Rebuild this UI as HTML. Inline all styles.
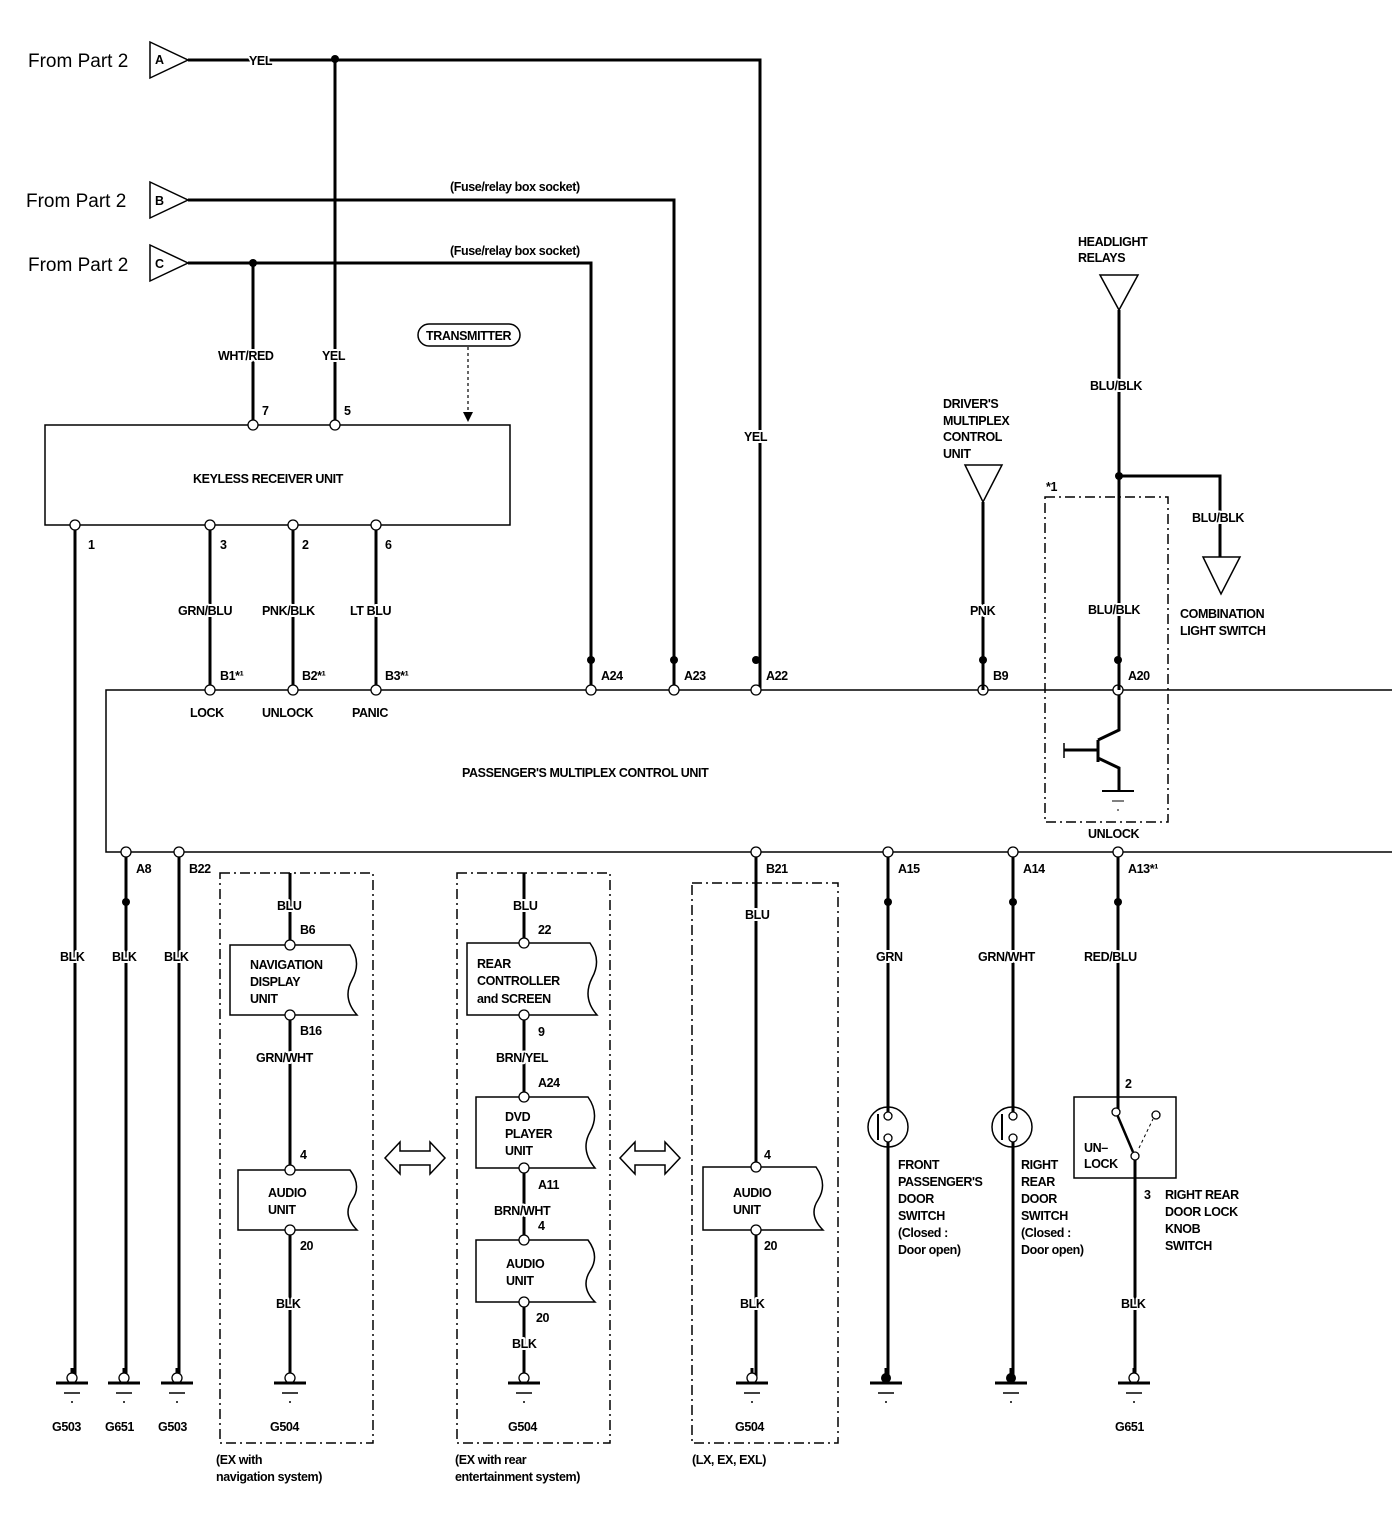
<!DOCTYPE html>
<html><head><meta charset="utf-8"><style>
html,body{margin:0;padding:0;background:#fff}
svg{display:block}
text{font-family:"Liberation Sans Narrow","Liberation Sans",sans-serif;font-weight:bold;font-size:12.5px;letter-spacing:-0.4px;fill:#000;stroke:#fff;stroke-width:4px;paint-order:stroke;stroke-linejoin:round}
.big{font-family:"Liberation Sans",sans-serif;font-weight:normal;font-size:19px;letter-spacing:0}
.w{stroke:#000;stroke-width:3;fill:none}
.t{stroke:#000;stroke-width:1.5;fill:none}
.d{stroke:#000;stroke-width:1.5;fill:none;stroke-dasharray:10 4 2 4}
.p{fill:#fff;stroke:#000;stroke-width:1.3}
</style></head><body>
<svg width="1392" height="1530" viewBox="0 0 1392 1530" xmlns="http://www.w3.org/2000/svg">
<defs>
<g id="gnd"><line class="w" x1="0" y1="-10" x2="0" y2="0"/><circle class="p" cx="0" cy="0" r="5"/><line x1="-16" y1="5" x2="16" y2="5" stroke="#000" stroke-width="3"/><line x1="-8" y1="15" x2="8" y2="15" stroke="#000" stroke-width="1.5"/><line x1="-1" y1="24" x2="1" y2="24" stroke="#000" stroke-width="1.5"/></g>
<g id="gndf"><line class="w" x1="0" y1="-10" x2="0" y2="0"/><circle cx="0" cy="0" r="5" fill="#000"/><line x1="-16" y1="5" x2="16" y2="5" stroke="#000" stroke-width="3"/><line x1="-8" y1="15" x2="8" y2="15" stroke="#000" stroke-width="1.5"/><line x1="-1" y1="24" x2="1" y2="24" stroke="#000" stroke-width="1.5"/></g>
</defs>

<!-- From Part 2 -->
<text class="big" x="28" y="67">From Part 2</text>
<text class="big" x="26" y="207">From Part 2</text>
<text class="big" x="28" y="271">From Part 2</text>
<polygon class="t" points="150,42 150,78 188,60"/><text x="155" y="64" font-size="9">A</text>
<polygon class="t" points="150,182 150,218 188,200"/><text x="155" y="205" font-size="9">B</text>
<polygon class="t" points="150,245 150,281 188,263"/><text x="155" y="268" font-size="9">C</text>

<!-- wires top -->
<path class="w" d="M188,60 H760 V690"/>
<path class="w" d="M188,200 H674 V690"/>
<path class="w" d="M188,263 H591 V690"/>
<path class="w" d="M335,60 V425"/>
<path class="w" d="M253,263 V425"/>
<circle cx="335" cy="59" r="4"/><circle cx="253" cy="263" r="4"/>
<text x="249" y="65">YEL</text>
<text x="450" y="191" font-size="11">(Fuse/relay box socket)</text>
<text x="450" y="255" font-size="11">(Fuse/relay box socket)</text>
<text x="218" y="360">WHT/RED</text><text x="322" y="360">YEL</text>
<text x="744" y="441">YEL</text>
<text x="262" y="415">7</text><text x="344" y="415">5</text>
<rect x="418" y="324" width="102" height="22" rx="11" class="t"/>
<text x="426" y="340" font-size="11">TRANSMITTER</text>
<line x1="468" y1="347" x2="468" y2="414" stroke="#000" stroke-width="1.2" stroke-dasharray="3 3"/>
<polygon points="463,412 473,412 468,422"/>

<!-- keyless box -->
<rect x="45" y="425" width="465" height="100" class="t"/>
<text x="193" y="483">KEYLESS RECEIVER UNIT</text>
<circle class="p" cx="253" cy="425" r="5"/><circle class="p" cx="335" cy="425" r="5"/>

<path class="w" d="M75,525 V1375 M210,525 V690 M293,525 V690 M376,525 V690"/>
<circle class="p" cx="75" cy="525" r="5"/><circle class="p" cx="210" cy="525" r="5"/><circle class="p" cx="293" cy="525" r="5"/><circle class="p" cx="376" cy="525" r="5"/>
<text x="88" y="549">1</text><text x="220" y="549">3</text><text x="302" y="549">2</text><text x="385" y="549">6</text>
<text x="178" y="615">GRN/BLU</text><text x="262" y="615">PNK/BLK</text><text x="350" y="615">LT BLU</text>

<!-- PMCU -->
<path class="t" d="M1392,690 H106 V852 H1392" stroke-width="2"/>
<text x="462" y="777">PASSENGER'S MULTIPLEX CONTROL UNIT</text>
<g>
<circle class="p" cx="210" cy="690" r="5"/><circle class="p" cx="293" cy="690" r="5"/><circle class="p" cx="376" cy="690" r="5"/>
<circle class="p" cx="591" cy="690" r="5"/><circle class="p" cx="674" cy="690" r="5"/><circle class="p" cx="756" cy="690" r="5"/>
<circle class="p" cx="983" cy="690" r="5"/><circle class="p" cx="1118" cy="690" r="5"/>
</g>
<circle cx="591" cy="660" r="4"/><circle cx="674" cy="660" r="4"/><circle cx="756" cy="660" r="4"/><circle cx="983" cy="660" r="4"/><circle cx="1118" cy="660" r="4"/>
<text x="220" y="680">B1*¹</text><text x="302" y="680">B2*¹</text><text x="385" y="680">B3*¹</text>
<text x="601" y="680">A24</text><text x="684" y="680">A23</text><text x="766" y="680">A22</text>
<text x="993" y="680">B9</text><text x="1128" y="680">A20</text>
<text x="190" y="717">LOCK</text><text x="262" y="717">UNLOCK</text><text x="352" y="717">PANIC</text>

<!-- right top -->
<text x="1078" y="246">HEADLIGHT</text><text x="1078" y="262">RELAYS</text>
<polygon class="t" points="1100,275 1138,275 1119,310"/>
<path class="w" d="M1119,310 V690"/>
<path class="w" d="M1119,476 H1220 V557"/><circle cx="1119" cy="476" r="4"/>
<text x="1090" y="390">BLU/BLK</text>
<text x="1192" y="522">BLU/BLK</text>
<polygon class="t" points="1203,557 1240,557 1221,594"/>
<text x="1180" y="618">COMBINATION</text><text x="1180" y="635">LIGHT SWITCH</text>
<rect x="1045" y="497" width="123" height="325" class="d"/>
<text x="1046" y="491">*1</text>
<text x="1088" y="614">BLU/BLK</text>
<text x="1088" y="838">UNLOCK</text>
<path class="w" d="M1119,695 V730 L1098,740 M1098,740 V762 M1098,750 H1064 M1098,758 L1119,768 V790"/>
<line x1="1064" y1="743" x2="1064" y2="758" stroke="#000" stroke-width="1.5"/>
<line x1="1102" y1="791" x2="1134" y2="791" stroke="#000" stroke-width="2"/>
<line x1="1112" y1="801" x2="1124" y2="801" stroke="#000" stroke-width="1"/>
<line x1="1117" y1="810" x2="1119" y2="810" stroke="#000" stroke-width="1"/>

<text x="943" y="408">DRIVER'S</text><text x="943" y="425">MULTIPLEX</text><text x="943" y="441">CONTROL</text><text x="943" y="458">UNIT</text>
<polygon class="t" points="965,465 1002,465 983,502"/>
<path class="w" d="M983,502 V690"/>
<text x="970" y="615">PNK</text>

<!-- bottom pins -->
<circle class="p" cx="126" cy="852" r="5"/><circle class="p" cx="179" cy="852" r="5"/><circle class="p" cx="756" cy="852" r="5"/>
<circle class="p" cx="888" cy="852" r="5"/><circle class="p" cx="1013" cy="852" r="5"/><circle class="p" cx="1118" cy="852" r="5"/>
<text x="136" y="873">A8</text><text x="189" y="873">B22</text><text x="766" y="873">B21</text>
<text x="898" y="873">A15</text><text x="1023" y="873">A14</text><text x="1128" y="873">A13*¹</text>
<path class="w" d="M126,857 V1375 M179,857 V1375"/>
<circle cx="126" cy="902" r="4"/><circle cx="888" cy="902" r="4"/><circle cx="1013" cy="902" r="4"/><circle cx="1118" cy="902" r="4"/>
<text x="60" y="961">BLK</text><text x="112" y="961">BLK</text><text x="164" y="961">BLK</text>
<use href="#gnd" x="72" y="1378"/><use href="#gnd" x="124" y="1378"/><use href="#gnd" x="177" y="1378"/>
<text x="52" y="1431">G503</text><text x="105" y="1431">G651</text><text x="158" y="1431">G503</text>

<!-- nav box -->
<rect x="220" y="873" width="153" height="570" class="d"/>
<path class="w" d="M290,873 V945 M290,1015 V1170 M290,1230 V1378"/>
<text x="277" y="910">BLU</text><text x="300" y="934">B6</text>
<path class="t" d="M230,945 H350 Q362,962 352,980 Q342,998 357,1015 H230 Z"/>
<text x="250" y="969">NAVIGATION</text><text x="250" y="986">DISPLAY</text><text x="250" y="1003">UNIT</text>
<circle class="p" cx="290" cy="945" r="5"/><circle class="p" cx="290" cy="1015" r="5"/>
<text x="300" y="1035">B16</text><text x="256" y="1062">GRN/WHT</text>
<text x="300" y="1159">4</text>
<path class="t" d="M238,1170 H350 Q362,1186 352,1200 Q342,1215 357,1230 H238 Z"/>
<text x="268" y="1197">AUDIO</text><text x="268" y="1214">UNIT</text>
<circle class="p" cx="290" cy="1170" r="5"/><circle class="p" cx="290" cy="1230" r="5"/>
<text x="300" y="1250">20</text><text x="276" y="1308">BLK</text>
<use href="#gnd" x="290" y="1378"/><text x="270" y="1431">G504</text>
<text x="216" y="1464">(EX with</text><text x="216" y="1481">navigation system)</text>

<!-- rear box -->
<rect x="457" y="873" width="153" height="570" class="d"/>
<path class="w" d="M524,873 V943 M524,1015 V1097 M524,1168 V1240 M524,1302 V1378"/>
<text x="513" y="910">BLU</text><text x="538" y="934">22</text>
<path class="t" d="M467,943 H590 Q602,960 592,978 Q582,998 597,1015 H467 Z"/>
<text x="477" y="968">REAR</text><text x="477" y="985">CONTROLLER</text><text x="477" y="1003">and SCREEN</text>
<circle class="p" cx="524" cy="943" r="5"/><circle class="p" cx="524" cy="1015" r="5"/>
<text x="538" y="1036">9</text><text x="496" y="1062">BRN/YEL</text><text x="538" y="1087">A24</text>
<path class="t" d="M476,1097 H588 Q600,1114 590,1132 Q580,1150 595,1168 H476 Z"/>
<text x="505" y="1121">DVD</text><text x="505" y="1138">PLAYER</text><text x="505" y="1155">UNIT</text>
<circle class="p" cx="524" cy="1097" r="5"/><circle class="p" cx="524" cy="1168" r="5"/>
<text x="538" y="1189">A11</text><text x="494" y="1215">BRN/WHT</text><text x="538" y="1230">4</text>
<path class="t" d="M476,1240 H588 Q600,1256 590,1271 Q580,1287 595,1302 H476 Z"/>
<text x="506" y="1268">AUDIO</text><text x="506" y="1285">UNIT</text>
<circle class="p" cx="524" cy="1240" r="5"/><circle class="p" cx="524" cy="1302" r="5"/>
<text x="536" y="1322">20</text><text x="512" y="1348">BLK</text>
<use href="#gnd" x="524" y="1378"/><text x="508" y="1431">G504</text>
<text x="455" y="1464">(EX with rear</text><text x="455" y="1481">entertainment system)</text>

<!-- LX box -->
<rect x="692" y="883" width="146" height="560" class="d"/>
<path class="w" d="M756,857 V1170 M756,1230 V1378"/>
<text x="745" y="919">BLU</text><text x="764" y="1159">4</text>
<path class="t" d="M703,1167 H816 Q828,1184 818,1200 Q808,1215 823,1230 H703 Z"/>
<text x="733" y="1197">AUDIO</text><text x="733" y="1214">UNIT</text>
<circle class="p" cx="756" cy="1167" r="5"/><circle class="p" cx="756" cy="1230" r="5"/>
<text x="764" y="1250">20</text><text x="740" y="1308">BLK</text>
<use href="#gnd" x="752" y="1378"/><text x="735" y="1431">G504</text>
<text x="692" y="1464">(LX, EX, EXL)</text>

<!-- double arrows -->
<polygon class="t" points="385,1158 400,1142 400,1151 430,1151 430,1142 445,1158 430,1174 430,1165 400,1165 400,1174"/>
<polygon class="t" points="620,1158 635,1142 635,1151 665,1151 665,1142 680,1158 665,1174 665,1165 635,1165 635,1174"/>

<!-- door switches -->
<path class="w" d="M888,857 V1113 M888,1140 V1378 M1013,857 V1113 M1013,1140 V1378"/>
<text x="876" y="961">GRN</text><text x="978" y="961">GRN/WHT</text>
<circle class="t" cx="888" cy="1127" r="20"/><line x1="878" y1="1114" x2="878" y2="1140" stroke="#000" stroke-width="2"/>
<circle class="p" cx="888" cy="1116" r="4"/><circle class="p" cx="888" cy="1138" r="4"/>
<circle class="t" cx="1012" cy="1127" r="20"/><line x1="1002" y1="1114" x2="1002" y2="1140" stroke="#000" stroke-width="2"/>
<circle class="p" cx="1013" cy="1116" r="4"/><circle class="p" cx="1013" cy="1138" r="4"/>
<text x="898" y="1169">FRONT</text><text x="898" y="1186">PASSENGER'S</text><text x="898" y="1203">DOOR</text><text x="898" y="1220">SWITCH</text><text x="898" y="1237" font-size="12">(Closed :</text><text x="898" y="1254" font-size="12">Door open)</text>
<text x="1021" y="1169">RIGHT</text><text x="1021" y="1186">REAR</text><text x="1021" y="1203">DOOR</text><text x="1021" y="1220">SWITCH</text><text x="1021" y="1237" font-size="12">(Closed :</text><text x="1021" y="1254" font-size="12">Door open)</text>
<use href="#gndf" x="886" y="1378"/><use href="#gndf" x="1011" y="1378"/>

<!-- knob switch -->
<path class="w" d="M1118,857 V1113 M1135,1160 V1378"/>
<text x="1084" y="961">RED/BLU</text><text x="1125" y="1088">2</text>
<rect x="1074" y="1097" width="102" height="81" class="t"/>
<line x1="1116" y1="1112" x2="1133" y2="1152" stroke="#000" stroke-width="2.5"/>
<line x1="1139" y1="1148" x2="1153" y2="1119" stroke="#000" stroke-width="1" stroke-dasharray="3 3"/>
<circle class="p" cx="1116" cy="1112" r="4"/><circle class="p" cx="1156" cy="1115" r="4"/><circle class="p" cx="1135" cy="1156" r="4"/>
<text x="1084" y="1152">UN–</text><text x="1084" y="1168">LOCK</text>
<text x="1144" y="1199">3</text>
<text x="1165" y="1199">RIGHT REAR</text><text x="1165" y="1216">DOOR LOCK</text><text x="1165" y="1233">KNOB</text><text x="1165" y="1250">SWITCH</text>
<text x="1121" y="1308">BLK</text>
<use href="#gnd" x="1134" y="1378"/><text x="1115" y="1431">G651</text>
</svg>
</body></html>
